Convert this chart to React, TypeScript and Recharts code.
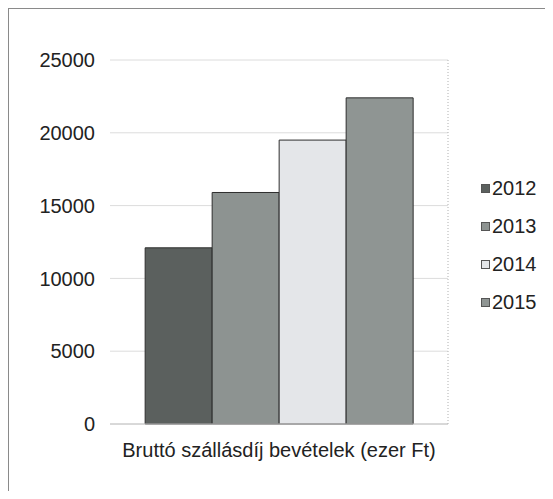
import { BarChart, Bar, XAxis, YAxis, CartesianGrid } from "recharts";

const categories = ["Bruttó szállásdíj bevételek (ezer Ft)"];
const years = ["2012", "2013", "2014", "2015"];
const values2012 = [12100];
const values2013 = [15900];
const values2014 = [19500];
const values2015 = [22400];
const yTicks = [0, 5000, 10000, 15000, 20000, 25000];
const colors = ["#5b605e", "#8d9391", "#e4e6e9", "#8f9593"];

const seriesValues = [values2012, values2013, values2014, values2015];
const data = categories.map((name, i) => {
  const row: Record<string, string | number> = { name };
  years.forEach((y, j) => {
    row[y] = seriesValues[j][i];
  });
  return row;
});

const font = "'Liberation Sans', Arial, sans-serif";

export default function App() {
  return (
    <div
      style={{
        width: 545,
        height: 483,
        boxSizing: "border-box",
        borderTop: "1px solid #8a8a8a",
        borderLeft: "1px solid #8a8a8a",
        position: "relative",
        fontFamily: font,
      }}
    >
      <BarChart
        width={544}
        height={482}
        data={data}
        margin={{ top: 51, right: 104, bottom: 27, left: 0 }}
        barCategoryGap="10.4%"
        barGap={0}
      >
        <CartesianGrid horizontal vertical={false} stroke="#dcdcdc" />
        <XAxis
          dataKey="name"
          height={40}
          axisLine={{ stroke: "#c4c4c4" }}
          tickLine={false}
          tickSize={0}
          tickMargin={19}
          tick={{ fontSize: 20, fill: "#222", fontFamily: font }}
        />
        <YAxis
          width={101}
          domain={[0, 25000]}
          ticks={yTicks}
          axisLine={false}
          tickLine={false}
          tickSize={0}
          tickMargin={15}
          tick={{ fontSize: 20, fill: "#222", fontFamily: font }}
        />
        <YAxis
          yAxisId="frame"
          orientation="right"
          width={1}
          tick={false}
          tickLine={false}
          axisLine={{ stroke: "#b0b0b0", strokeDasharray: "1 2" }}
        />
        {years.map((y, i) => (
          <Bar
            key={y}
            dataKey={y}
            fill={colors[i]}
            stroke="#2e2e2e"
            strokeWidth={1}
            isAnimationActive={false}
          />
        ))}
      </BarChart>
      <div style={{ position: "absolute", left: 472, top: 160 }}>
        {years.map((y, i) => (
          <div
            key={y}
            style={{ display: "flex", alignItems: "center", height: 38, fontSize: 20, color: "#222" }}
          >
            <span
              style={{
                width: 7,
                height: 7,
                background: colors[i],
                border: "1px solid #555",
                marginRight: 2,
                display: "inline-block",
              }}
            />
            {y}
          </div>
        ))}
      </div>
    </div>
  );
}
